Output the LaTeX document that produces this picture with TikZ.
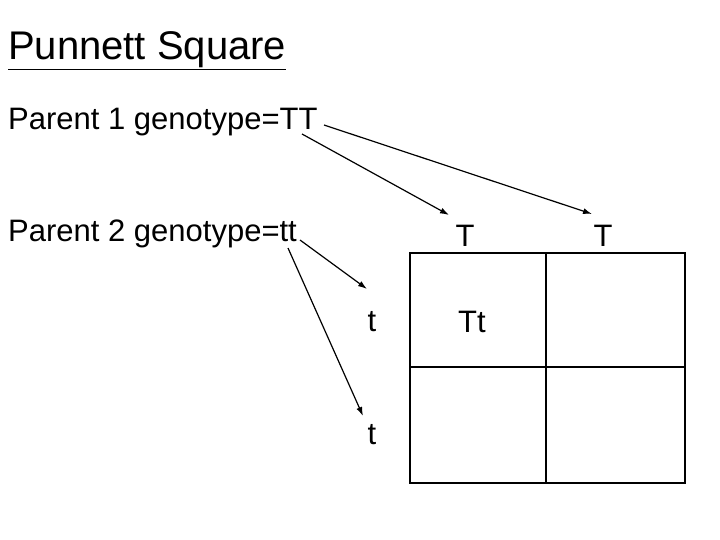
\documentclass[tikz,border=0pt]{standalone}
\usepackage{fontspec}
\setmainfont{Liberation Sans}
\usetikzlibrary{arrows.meta}
\begin{document}
\begin{tikzpicture}[x=1pt,y=-1pt,
  lbl/.style={font=\fontsize{31}{36}\selectfont, inner sep=0pt},
  arr/.style={-{Latex[length=9pt,width=6pt]}, line width=1.2pt},
  grid/.style={line width=2.2pt}]
\useasboundingbox (0,0) rectangle (720,540);
\node[anchor=base west, inner sep=0pt, font=\fontsize{40}{44}\selectfont] (title) at (8,60) {\underline{Punnett Square}};
\node[lbl, anchor=base west] (p1) at (8,130) {Parent 1 genotype=TT};
\node[lbl, anchor=base west] (p2) at (8,241) {Parent 2 genotype=tt};
\node[lbl] (T1) at (465,236) {T};
\node[lbl] (T2) at (603,236) {T};
\node[lbl] (t1) at (372,322) {t};
\node[lbl] (t2) at (372,435) {t};
\node[lbl] (Tt) at (472,322) {Tt};
\coordinate (a1) at (324,125);
\coordinate (a2) at (302,134);
\coordinate (b1) at (300,240);
\coordinate (b2) at (288,248);
\coordinate (e1) at (592,214);
\coordinate (e2) at (449,215);
\coordinate (f1) at (367,289);
\coordinate (f2) at (363,416);
\draw[arr] (a1) -- (e1);
\draw[arr] (a2) -- (e2);
\draw[arr] (b1) -- (f1);
\draw[arr] (b2) -- (f2);
\draw[grid] (410,253) rectangle (685,483);
\draw[grid] (546,253) -- (546,483);
\draw[grid] (410,367) -- (685,367);
\end{tikzpicture}
\end{document}
